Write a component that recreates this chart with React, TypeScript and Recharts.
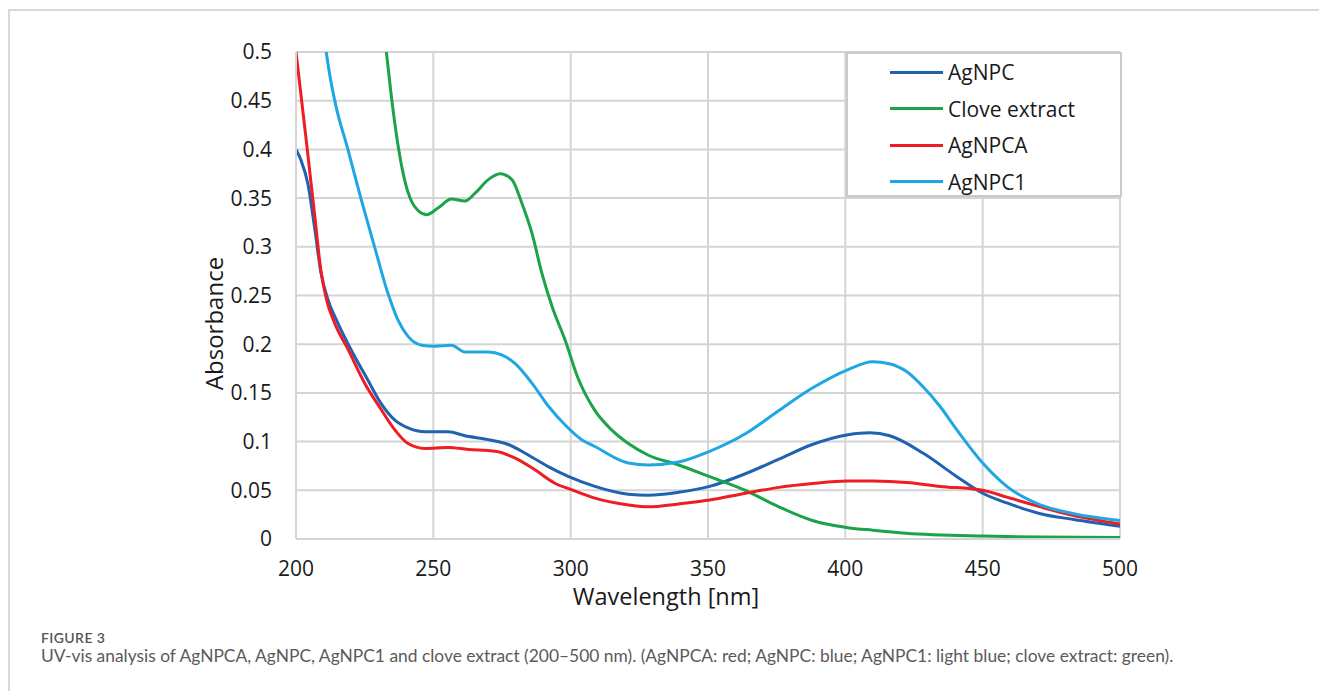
import React from 'react';
import { LineChart, Line, XAxis, YAxis, CartesianGrid, Legend } from 'recharts';

// [wavelength nm, absorbance]
const agnpc: [number, number][] = [
  [200, 0.4], [201.8, 0.389], [204.3, 0.365], [206.7, 0.321], [209.1, 0.273], [211.6, 0.246],
  [215.2, 0.222], [220.1, 0.194], [226.2, 0.163], [231, 0.139], [236, 0.122], [240.8, 0.114],
  [246.9, 0.11], [255.4, 0.11], [261.5, 0.106], [270, 0.102], [277.3, 0.097], [284.7, 0.086],
  [292, 0.074], [299.3, 0.064], [308.8, 0.054], [321, 0.046], [328.3, 0.045], [339.3, 0.048],
  [350.6, 0.054], [363.6, 0.067], [375.8, 0.082], [388, 0.097], [401, 0.107], [408.9, 0.109],
  [416.2, 0.106], [428.4, 0.088], [440.6, 0.064], [450, 0.047], [458.8, 0.037], [471, 0.026],
  [483.2, 0.02], [500, 0.013],
];

const cloveExtract: [number, number][] = [
  [231.5, 0.54], [232.9, 0.5], [234.7, 0.455], [237.1, 0.405], [239.6, 0.368], [242, 0.347],
  [244.5, 0.337], [247.5, 0.333], [251.8, 0.34], [256.6, 0.349], [261.5, 0.347], [265.2, 0.355],
  [270, 0.369], [274.3, 0.375], [278.6, 0.369], [282.2, 0.345], [285.9, 0.314], [289.5, 0.273],
  [293.2, 0.239], [298, 0.204], [302.7, 0.165], [308.8, 0.132], [314.9, 0.112], [321, 0.098],
  [328.3, 0.086], [339.3, 0.076], [350.6, 0.064], [363.6, 0.05], [375.8, 0.033], [388, 0.019],
  [401, 0.0116], [410, 0.009], [422, 0.006], [450, 0.003], [471, 0.002], [500, 0.0015],
];

const agnpca: [number, number][] = [
  [200, 0.5], [203.7, 0.41], [206.7, 0.335], [209.1, 0.275], [211, 0.247],
  [214, 0.222], [218.9, 0.195], [225, 0.16], [231, 0.133], [236, 0.112], [240.8, 0.098],
  [246.9, 0.093], [255.4, 0.094], [262.7, 0.092], [272.5, 0.09], [279.8, 0.083], [287, 0.071],
  [294.4, 0.057], [300, 0.051], [308.8, 0.042], [321, 0.035], [328.3, 0.033], [339.3, 0.036],
  [350.6, 0.04], [363.6, 0.047], [375.8, 0.053], [388, 0.057], [401, 0.0596], [410, 0.0595],
  [422.3, 0.058], [434.5, 0.054], [450, 0.05], [458.8, 0.043], [471, 0.033], [483.2, 0.024],
  [500, 0.0155],
];

const agnpc1: [number, number][] = [
  [209, 0.54], [211, 0.5], [212.5, 0.473], [214.5, 0.445], [218.9, 0.4], [223.8, 0.348], [228.6, 0.3],
  [233.5, 0.252], [237.1, 0.225], [240.8, 0.208], [245.7, 0.199], [250.5, 0.198], [256.6, 0.199],
  [261.5, 0.192], [270, 0.192], [274.9, 0.189], [279.8, 0.18], [285.9, 0.16], [292, 0.136],
  [298, 0.117], [304, 0.102], [308.8, 0.095], [321, 0.078], [328.3, 0.076], [339.3, 0.079],
  [350.6, 0.09], [363.6, 0.108], [375.8, 0.132], [388, 0.155], [401, 0.174], [410, 0.182],
  [416, 0.18], [422.3, 0.172], [428.4, 0.156], [434.5, 0.136], [440.6, 0.112], [450, 0.078],
  [458.8, 0.054], [471, 0.035], [483.2, 0.026], [500, 0.019],
];

const xTicks = [200, 250, 300, 350, 400, 450, 500];
const yTicks = [0, 0.05, 0.1, 0.15, 0.2, 0.25, 0.3, 0.35, 0.4, 0.45, 0.5];

const series = [
  { name: 'AgNPC', points: agnpc, color: '#1f62b0' },
  { name: 'Clove extract', points: cloveExtract, color: '#1ba34a' },
  { name: 'AgNPCA', points: agnpca, color: '#ee1c23' },
  { name: 'AgNPC1', points: agnpc1, color: '#1fa7e4' },
];

const toRows = (pts: [number, number][]) => pts.map(([x, y]) => ({ x, y }));

const font = '"Open Sans", sans-serif';
const gridColor = '#d4d4d4';

// legend drawn in the series' own order (recharts would sort it by name)
const LegendBox = () => (
  <div
    style={{
      boxSizing: 'border-box',
      width: 276,
      height: 145,
      border: '2px solid #c9c9c9',
      background: '#fff',
      fontFamily: font,
      fontSize: 21,
      color: '#1a1a1a',
    }}
  >
    {series.map((s) => (
      <div key={s.name} style={{ display: 'flex', alignItems: 'center', height: 36.5 }}>
        <span style={{ marginLeft: 42, width: 53, height: 3, background: s.color, display: 'inline-block' }} />
        <span style={{ marginLeft: 5, lineHeight: '36px' }}>{s.name}</span>
      </div>
    ))}
  </div>
);

export default function App() {
  return (
    <div style={{ position: 'fixed', left: 0, top: 0, width: 1319, height: 691, background: '#fff', overflow: 'hidden' }}>
      <div
        style={{
          position: 'absolute',
          left: 8,
          top: 9,
          width: 1310,
          height: 700,
          borderTop: '2px solid #d9d9d9',
          borderLeft: '2px solid #d9d9d9',
        }}
      />
      <div style={{ position: 'absolute', left: 0, top: 0 }}>
        <LineChart width={1319} height={620} margin={{ top: 52, right: 199, left: 200, bottom: 21 }}>
          <CartesianGrid stroke={gridColor} strokeWidth={2} />
          <XAxis
            type="number"
            dataKey="x"
            domain={[200, 500]}
            ticks={xTicks}
            allowDataOverflow
            height={60}
            tickLine={false}
            tickSize={0}
            tickMargin={22}
            stroke={gridColor}
            strokeWidth={2}
            tick={{ fill: '#1a1a1a', fontSize: 21, fontFamily: font }}
            label={{
              content: ({ viewBox }: any) => (
                <text
                  x={viewBox.x + viewBox.width / 2 - 42}
                  y={viewBox.y + 66}
                  textAnchor="middle"
                  fill="#1a1a1a"
                  fontSize={23.5}
                  fontFamily={font}
                >
                  Wavelength [nm]
                </text>
              ),
            }}
          />
          <YAxis
            type="number"
            domain={[0, 0.5]}
            ticks={yTicks}
            allowDataOverflow
            width={96}
            tickLine={false}
            tickSize={0}
            tickMargin={24}
            stroke={gridColor}
            strokeWidth={2}
            tick={{ fill: '#1a1a1a', fontSize: 21, fontFamily: font }}
            label={{
              content: ({ viewBox }: any) => {
                const lx = viewBox.x + 23;
                const ly = viewBox.y + viewBox.height / 2 + 28;
                return (
                  <text
                    x={lx}
                    y={ly}
                    transform={`rotate(-90 ${lx} ${ly})`}
                    textAnchor="middle"
                    fill="#1a1a1a"
                    fontSize={24}
                    fontFamily={font}
                  >
                    Absorbance
                  </text>
                );
              },
            }}
          />
          <Legend
            layout="vertical"
            align="center"
            verticalAlign="middle"
            content={LegendBox}
            wrapperStyle={{ left: 846, top: 52, width: 276, height: 145 }}
          />
          {series.map((s) => (
            <Line
              key={s.name}
              name={s.name}
              data={toRows(s.points)}
              dataKey="y"
              type="monotone"
              stroke={s.color}
              strokeWidth={3}
              dot={false}
              activeDot={false}
              isAnimationActive={false}
            />
          ))}
        </LineChart>
      </div>
      <div
        style={{
          position: 'absolute',
          left: 41,
          top: 631,
          fontFamily: 'Lato, sans-serif',
          color: '#555',
        }}
      >
        <div style={{ fontSize: 14, fontWeight: 600, letterSpacing: 0.4, lineHeight: '14px' }}>FIGURE 3</div>
        <div style={{ fontSize: 17.4, lineHeight: '18px', marginTop: 2, color: '#5a5a5a' }}>
          UV-vis analysis of AgNPCA, AgNPC, AgNPC1 and clove extract (200–500 nm). (AgNPCA: red; AgNPC: blue; AgNPC1: light blue; clove extract: green).
        </div>
      </div>
    </div>
  );
}
